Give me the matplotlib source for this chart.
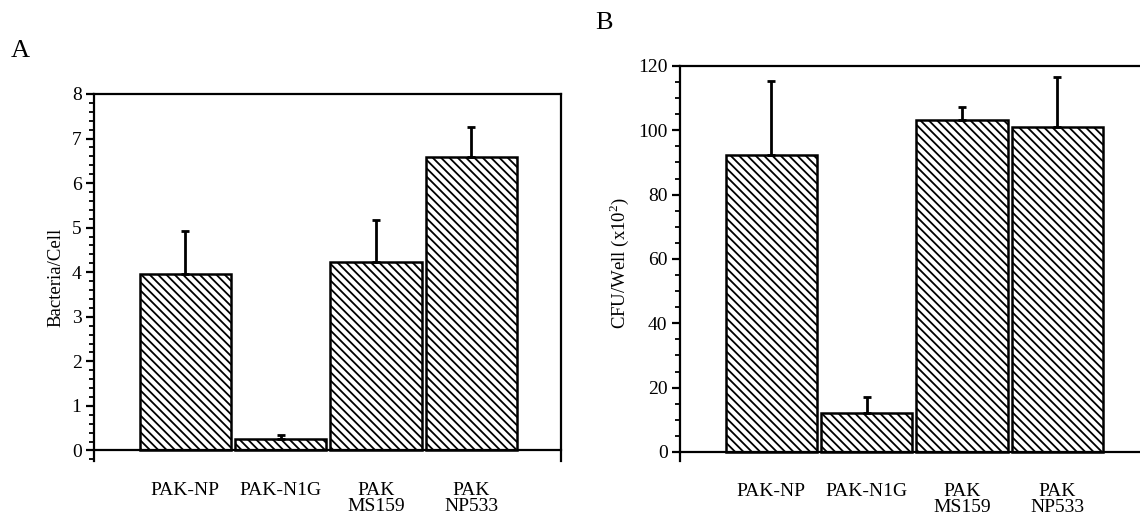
import numpy as np
import matplotlib
matplotlib.use("Agg")
import matplotlib.pyplot as plt
from matplotlib.ticker import MultipleLocator

# strains on the x axis (same for both panels)
strains = ["PAK-NP", "PAK-N1G", "PAK\nMS159", "PAK\nNP533"]

# panel A: adherence, bacteria per cell
bact_per_cell = [3.97, 0.26, 4.23, 6.58]
bact_err = [0.95, 0.08, 0.95, 0.68]

# panel B: CFU per well (x10^2)
cfu_well = [92.4, 12.1, 103.1, 100.9]
cfu_err = [23.0, 5.0, 4.0, 15.7]

plt.rcParams["font.family"] = ["Liberation Serif", "DejaVu Serif"]
plt.rcParams["hatch.linewidth"] = 1.3
plt.rcParams["mathtext.fontset"] = "custom"
plt.rcParams["mathtext.rm"] = "Liberation Serif"


def draw_panel(ax, values, errs, ylim, major, minor, ylabel):
    x = np.arange(len(strains))
    ax.bar(x, values, width=0.955, color="white", edgecolor="black",
           linewidth=1.8, hatch="\\\\\\\\", zorder=2)
    ax.errorbar(x, values, yerr=[np.zeros(len(errs)), errs], fmt="none",
                ecolor="black", elinewidth=2.0, capsize=3, capthick=2.0,
                zorder=3)
    ax.set_xlim(-0.955, 3.94)
    ax.set_ylim(*ylim)
    ax.yaxis.set_major_locator(MultipleLocator(major))
    ax.yaxis.set_minor_locator(MultipleLocator(minor))
    ax.set_yticks([t for t in ax.get_yticks() if t >= 0 and t <= ylim[1]])

    for side in ["left", "right", "top", "bottom"]:
        ax.spines[side].set_linewidth(1.6)
    ax.spines["bottom"].set_position(("data", 0))
    ax.spines["left"].set_bounds(ylim[0], ylim[1])

    ax.set_xticks(x)
    ax.set_xticklabels(strains, fontsize=14, linespacing=0.92)
    ax.tick_params(axis="x", length=0, pad=22.5)
    ax.tick_params(axis="y", which="major", direction="out", length=6,
                   width=1.6, labelsize=14, pad=3)
    ax.tick_params(axis="y", which="minor", direction="out", length=3.5,
                   width=1.3)
    ax.set_ylabel(ylabel, fontsize=13.5, labelpad=5)


fig = plt.figure(figsize=(11.4, 5.2), dpi=100)

ax_a = fig.add_axes([0.0825, 0.1135, 0.4097, 0.7058])
draw_panel(ax_a, bact_per_cell, bact_err, (-0.236, 8), 1, 0.2,
           "Bacteria/Cell")

ax_b = fig.add_axes([0.5965, 0.1135, 0.4097, 0.7596])
draw_panel(ax_b, cfu_well, cfu_err, (-2.8, 120), 20, 5,
           r"CFU/Well (x10$^2$)")

fig.text(20 / 1140, 1 - 51 / 520, "A", fontsize=19, ha="center", va="center")
fig.text(604 / 1140, 1 - 23 / 520, "B", fontsize=19, ha="center", va="center")

fig.savefig("out.png", dpi=100)
